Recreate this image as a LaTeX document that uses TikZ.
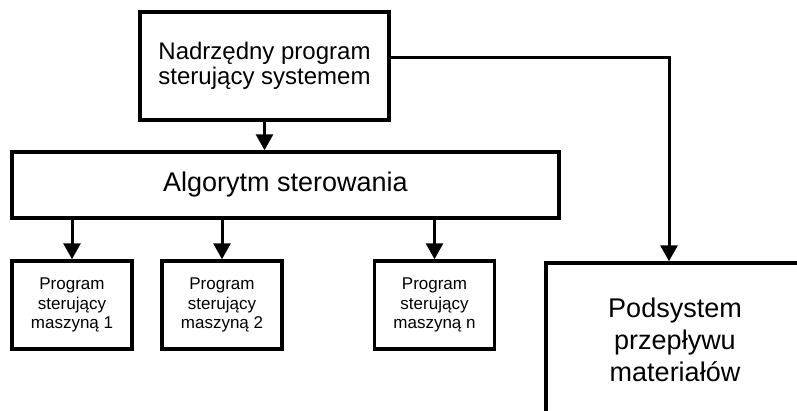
\documentclass[tikz,border=0pt]{standalone}
\usepackage{fontspec}
\setmainfont{Liberation Sans}
\usetikzlibrary{arrows.meta}
\tikzstyle{mainbox} = [rectangle, draw, line width=3.5pt, text centered, align=center, font=\fontsize{24}{25}\selectfont, minimum width=249pt, minimum height=108pt]
\tikzstyle{algbox} = [rectangle, draw, line width=3.5pt, text centered, font=\fontsize{27}{30}\selectfont, minimum width=547pt, minimum height=66pt]
\tikzstyle{mcell} = [rectangle, draw, line width=3.5pt, text centered, align=center, font=\fontsize{17}{19.5}\selectfont, minimum width=120pt, minimum height=88pt]
\tikzstyle{subsys} = [rectangle, draw, line width=3.5pt, text centered, align=center, font=\fontsize{27}{32}\selectfont, minimum width=258pt, minimum height=154pt]
\tikzstyle{line} = [draw, line width=3pt, -{Triangle[length=16pt,width=17pt]}]

\begin{document}
\begin{tikzpicture}[x=1pt, y=-1pt, inner sep=0pt]
    \useasboundingbox (0,0) rectangle (797,410);
    \clip (0,0) rectangle (797,410);

    \node[mainbox] (master) at (264.5,66) {Nadrzędny program\\sterujący systemem};
    \node[algbox] (alg) at (285.5,185) {Algorytm sterowania};
    \node[mcell] (m1) at (72,305) {Program\\sterujący\\maszyną 1};
    \node[mcell] (m2) at (222,305) {Program\\sterujący\\maszyną 2};
    \node[mcell] (mn) at (434.5,305) {Program\\sterujący\\maszyną n};
    \node[subsys] (flow) at (675,340) {Podsystem\\przepływu\\materiałów};

    \path[line] (master.south) -- (master.south |- alg.north);
    \foreach \m in {m1, m2, mn}
        \path[line] (alg.south -| \m.north) -- (\m.north);
    \path[line] ([yshift=9pt]master.east) -| ([xshift=-6pt]flow.north);
\end{tikzpicture}
\end{document}
